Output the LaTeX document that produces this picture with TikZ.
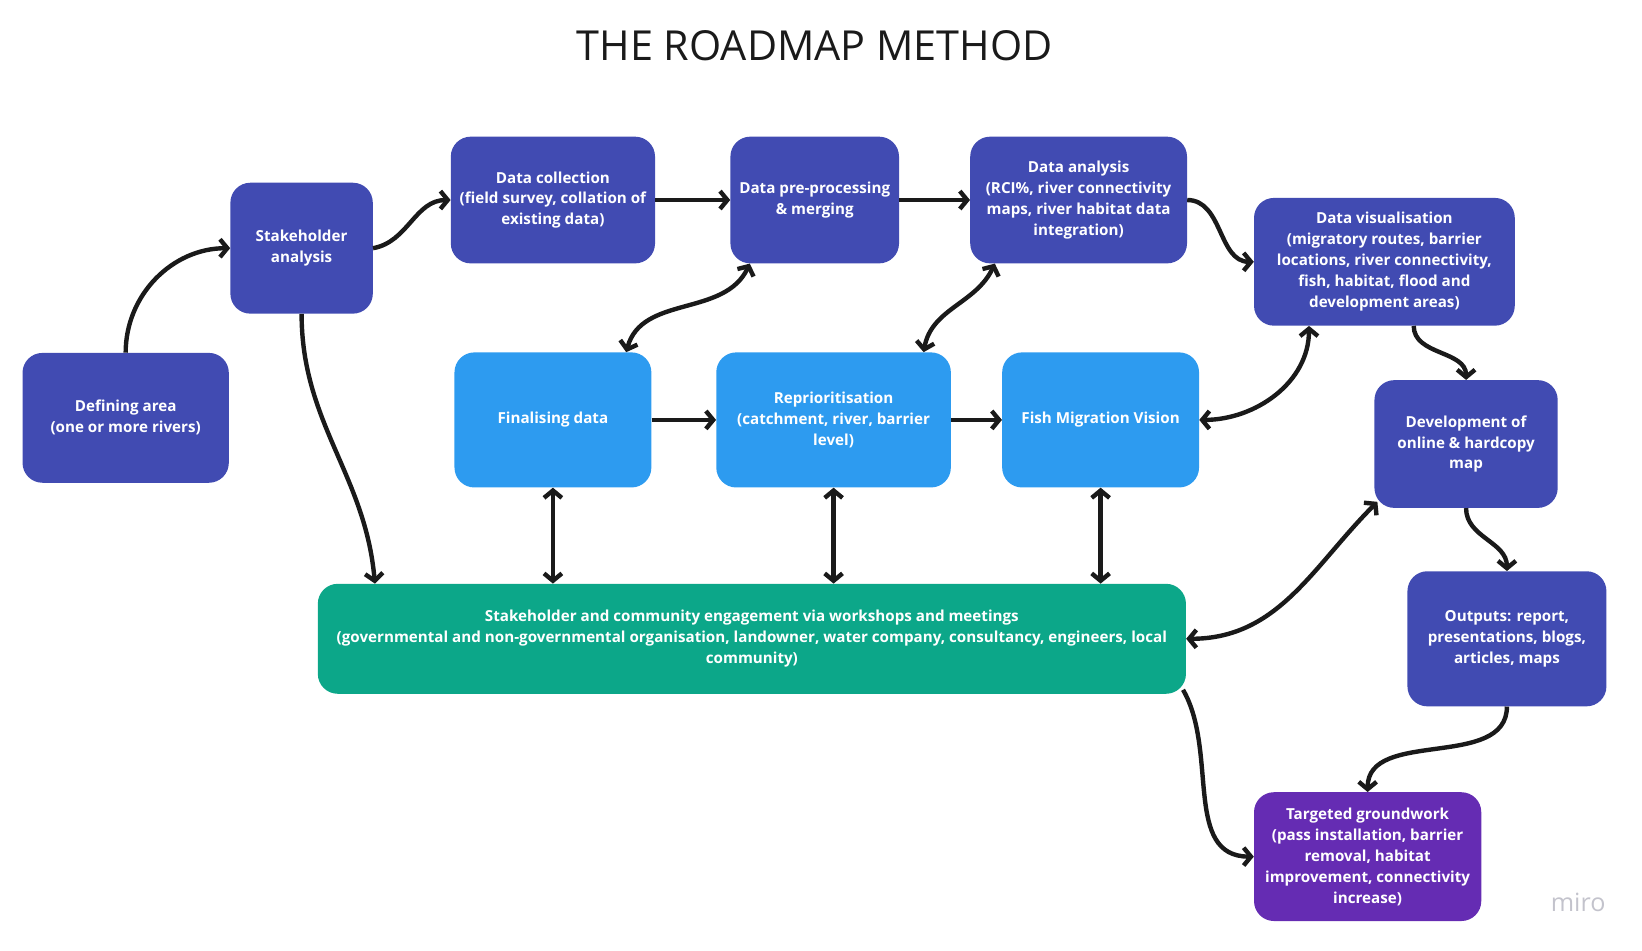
\documentclass[tikz,border=0pt]{standalone}
\usepackage{fontspec}
\setmainfont{Open Sans}
\usetikzlibrary{arrows.meta, positioning}
\definecolor{roadblue}{HTML}{414BB2}
\definecolor{roadsky}{HTML}{2D9BF0}
\definecolor{roadgreen}{HTML}{0CA789}
\definecolor{roadpurple}{HTML}{652CB3}
\definecolor{roadink}{HTML}{1A1A1A}
\definecolor{roadmark}{HTML}{C3C3CC}
\begin{document}
\begin{tikzpicture}[x=1pt,y=-1pt,
        box/.style={rectangle,rounded corners=19pt,fill=roadblue,text=white,align=center,inner sep=2pt,
            font=\fontsize{14.5}{20}\selectfont\bfseries},
        arr/.style={draw=roadink,line width=4.2pt,-{Straight Barb[length=7pt,width=17pt]}},
        darr/.style={draw=roadink,line width=4.2pt,{Straight Barb[length=7pt,width=17pt]}-{Straight Barb[length=7pt,width=17pt]}}]
        \useasboundingbox (0,0) rectangle (1568,908);
        \node[font=\fontsize{39.5}{46}\selectfont,text=roadink] (title) at (778,44) {THE ROADMAP METHOD};
        % top row
        \node[box,minimum width=197pt,minimum height=124pt] (area) at (120,399) {Defining area\\(one or more rivers)};
        \node[box,minimum width=136pt,minimum height=125pt] (stake) at (288,237) {Stakeholder\\analysis};
        \node[box,minimum width=195pt,minimum height=121pt] (collect) at (528,191) {Data collection\\(field survey, collation of\\existing data)};
        \node[box,minimum width=161pt,minimum height=121pt] (prep) at (778,191) {Data pre-processing\\\& merging};
        \node[box,minimum width=207pt,minimum height=121pt] (analysis) at (1030,191) {Data analysis\\(RCI\%, river connectivity\\maps, river habitat data\\integration)};
        \node[box,minimum width=249pt,minimum height=122pt] (vis) at (1322,250) {Data visualisation\\(migratory routes, barrier\\locations, river connectivity,\\fish, habitat, flood and\\development areas)};
        % middle row
        \node[box,fill=roadsky,minimum width=188pt,minimum height=129pt] (final) at (528,401) {Finalising data};
        \node[box,fill=roadsky,minimum width=224pt,minimum height=129pt] (reprio) at (796,401) {Reprioritisation\\(catchment, river, barrier\\level)};
        \node[box,fill=roadsky,minimum width=188pt,minimum height=129pt] (vision) at (1051,401) {Fish Migration Vision};
        \node[box,minimum width=175pt,minimum height=122pt] (map) at (1400,424) {Development of\\online \& hardcopy\\map};
        % bottom
        \node[box,fill=roadgreen,minimum width=829pt,minimum height=105pt] (engage) at (718,610) {Stakeholder and community engagement via workshops and meetings\\(governmental and non-governmental organisation, landowner, water company, consultancy, engineers, local\\community)};
        \node[box,minimum width=190pt,minimum height=129pt] (outputs) at (1439,610) {Outputs: report,\\presentations, blogs,\\articles, maps};
        \node[box,fill=roadpurple,minimum width=217pt,minimum height=123pt] (ground) at (1306,818) {Targeted groundwork\\(pass installation, barrier\\removal, habitat\\improvement, connectivity\\increase)};
        \node[font=\fontsize{24}{28}\selectfont,text=roadmark] (miro) at (1507,862) {miro};
        % main flow
        \draw[arr] (area.north) to[out=90,in=180] (stake.west);
        \draw[arr] (stake.east) to[out=10,in=180] (collect.west);
        \draw[arr] (collect.east) -- (prep.west);
        \draw[arr] (prep.east) -- (analysis.west);
        \draw[arr] (analysis.east) to[out=0,in=180] (vis.west);
        \draw[arr] ([xshift=28pt]vis.south) to[out=-90,in=90] (map.north);
        \draw[arr] (map.south) to[out=-90,in=90] (outputs.north);
        \draw[arr] (outputs.south) to[out=-90,in=90] (ground.north);
        \draw[arr] ([xshift=-3pt,yshift=4pt]engage.south east) to[out=-60,in=180] (ground.west);
        \draw[arr] (stake.south) to[out=-90,in=95] ([xshift=-360pt]engage.north);
        \draw[arr] (final.east) -- (reprio.west);
        \draw[arr] (reprio.east) -- (vision.west);
        % feedback
        \draw[darr] ([xshift=70pt]final.north) to[out=75,in=-115] ([xshift=-62pt]prep.south);
        \draw[darr] ([xshift=86pt]reprio.north) to[out=80,in=-115] ([xshift=-80pt]analysis.south);
        \draw[darr] (vision.east) to[out=0,in=-90] ([xshift=-72pt]vis.south);
        \draw[darr] (final.south) -- (final.south |- engage.north);
        \draw[darr] (reprio.south) -- (reprio.south |- engage.north);
        \draw[darr] (vision.south) -- (vision.south |- engage.north);
        \draw[darr] (engage.east) to[out=0,in=-135] ([xshift=3pt,yshift=6pt]map.south west);
\end{tikzpicture}
\end{document}
